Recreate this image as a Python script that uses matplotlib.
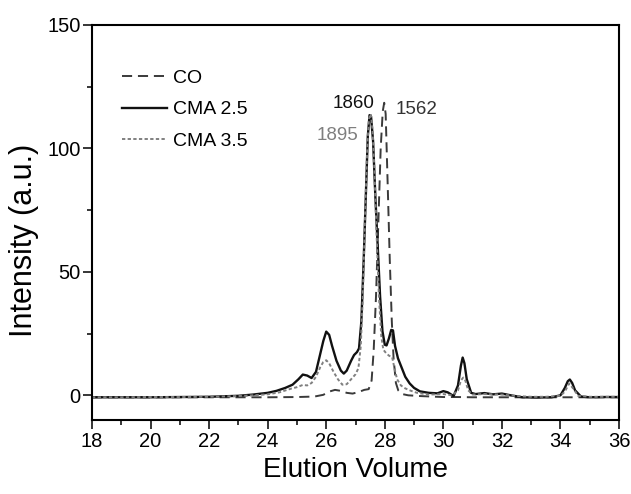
import numpy as np
import matplotlib.pyplot as plt

plt.rcParams['font.family'] = ['Liberation Sans', 'DejaVu Sans']

# Elution profiles (x = elution volume, y = intensity)
co_x = [18, 19, 20, 21, 22, 23, 24, 25, 25.6, 25.9, 26.1, 26.3, 26.5, 26.7, 26.9,
        27.1, 27.3, 27.45, 27.55, 27.62, 27.7, 27.78, 27.86, 27.93, 27.98, 28.03,
        28.1, 28.17, 28.24, 28.3, 28.38, 28.46, 28.6, 28.8, 29.2, 29.6, 30.0, 30.5,
        31, 32, 33, 34, 35, 36]
co_y = [-0.8, -0.8, -0.8, -0.8, -0.8, -0.8, -0.8, -0.7, -0.5, 0.2, 1.5, 2.2, 1.8,
        1.0, 0.7, 1.3, 2.2, 2.5, 6, 18, 40, 70, 100, 115, 118.5, 114, 85, 55, 30,
        15, 5, 2, 0.5, 0, -0.3, -0.5, -0.7, -0.7, -0.8, -0.8, -0.8, -0.8, -0.8, -0.8]

cma25_x = [18, 19, 20, 21, 22, 23, 23.5, 24, 24.3, 24.6, 24.85, 25.05, 25.2, 25.35,
           25.5, 25.65, 25.8, 25.9, 26.0, 26.1, 26.2, 26.35, 26.5, 26.6, 26.7, 26.85,
           26.95, 27.05, 27.12, 27.2, 27.28, 27.35, 27.42, 27.48, 27.53, 27.6, 27.68,
           27.76, 27.84, 27.92, 28.0, 28.06, 28.14, 28.22, 28.28, 28.35, 28.45, 28.55,
           28.7, 28.85, 29.0, 29.2, 29.5, 29.8, 30.0, 30.15, 30.35, 30.5, 30.6, 30.66,
           30.72, 30.8, 30.95, 31.1, 31.4, 31.7, 32.0, 32.3, 32.7, 33.2, 33.7, 34.0,
           34.15, 34.25, 34.32, 34.4, 34.5, 34.7, 35.0, 35.5, 36]
cma25_y = [-0.8, -0.8, -0.8, -0.7, -0.6, -0.2, 0.3, 1.0, 1.8, 3.0, 4.3, 6.5, 8.4, 8.0,
           7.0, 9.5, 17, 22, 25.8, 24.5, 20, 14, 10, 8.8, 10, 14, 16.3, 17.5, 19, 30,
           55, 80, 105, 113.5, 113, 103, 80, 60, 40, 26, 20.5, 20.2, 23, 26.5, 26.3,
           20, 15, 12, 7.5, 4.8, 3, 1.6, 1.0, 0.8, 1.7, 1.2, -0.3, 4, 12, 15.3, 13,
           6.5, 1.0, 0.5, 0.9, 0.4, 0.7, 0, -0.8, -0.9, -0.8, 0, 3, 5.7, 6.4, 5, 2,
           -0.5, -0.8, -0.7, -0.7]

cma35_x = [18, 19, 20, 21, 22, 23, 23.5, 24, 24.4, 24.8, 25.0, 25.2, 25.35, 25.5,
           25.65, 25.8, 25.9, 26.0, 26.1, 26.25, 26.4, 26.55, 26.7, 26.85, 27.0, 27.1,
           27.18, 27.25, 27.32, 27.4, 27.46, 27.52, 27.58, 27.65, 27.72, 27.8, 27.88,
           27.95, 28.05, 28.15, 28.25, 28.33, 28.42, 28.55, 28.7, 28.9, 29.1, 29.5,
           30.0, 30.3, 30.5, 30.6, 30.68, 30.75, 30.85, 31.0, 31.4, 32.0, 32.5, 33.0,
           33.5, 34.0, 34.15, 34.3, 34.45, 34.6, 35.0, 35.5, 36]
cma35_y = [-0.8, -0.8, -0.7, -0.7, -0.6, -0.3, 0.0, 0.4, 1.2, 2.7, 3.3, 4.2, 4.0, 5.0,
           7.5, 11.5, 13.5, 14.2, 13, 9.5, 6.5, 4.3, 4.5, 6.5, 8.5, 11, 20, 40, 70,
           100, 112, 114, 108, 90, 65, 40, 24, 18.5, 17, 16, 15.5, 11, 6.5, 4, 2.8,
           1.8, 1.0, 0.3, 0.5, 0, 2, 6, 7.2, 6, 2, 0.3, 0.5, 0.3, -0.3, -0.6, -0.6,
           -0.2, 1.5, 4.8, 2.5, -0.2, -0.6, -0.6, -0.6]

# peak labels (molecular weights)
peak_labels = ['1860', '1895', '1562']
peak_x = [26.95, 26.38, 29.08]
peak_y = [118.4, 105.4, 115.9]
peak_colors = ['#111111', '#7f7f7f', '#333333']

fig = plt.figure(figsize=(6.31, 4.94), dpi=100)
ax = fig.add_axes([0.1458, 0.1498, 0.8352, 0.7996])

ax.plot(co_x, co_y, color='#3a3a3a', lw=1.4, linestyle=(0, (5.2, 3.0)), label='CO')
ax.plot(cma25_x, cma25_y, color='#111111', lw=1.7, label='CMA 2.5')
ax.plot(cma35_x, cma35_y, color='#808080', lw=1.4, linestyle=(0, (1.7, 1.2)), label='CMA 3.5')

for lab, px, py, c in zip(peak_labels, peak_x, peak_y, peak_colors):
    ax.text(px, py, lab, color=c, fontsize=13.5, ha='center', va='center')

ax.set_xlim(18, 36)
ax.set_ylim(-10, 150)
ax.set_xticks(np.arange(18, 37, 2))
ax.set_xticks(np.arange(19, 36, 2), minor=True)
ax.set_yticks([0, 50, 100, 150])
ax.set_yticks([25, 75, 125], minor=True)
ax.tick_params(which='major', direction='out', length=6.3, width=1.1, labelsize=14.5, pad=2)
ax.tick_params(which='minor', direction='out', length=3.6, width=1.1)
for s in ax.spines.values():
    s.set_linewidth(1.5)

ax.set_xlabel('Elution Volume', fontsize=20, labelpad=5)
ax.set_ylabel('Intensity (a.u.)', fontsize=22)
ax.yaxis.set_label_coords(-0.10, 0.456)

ax.legend(loc='upper left', bbox_to_anchor=(0.057, 0.887), frameon=False, fontsize=14,
          handlelength=2.3, handletextpad=0.3, labelspacing=0.7,
          borderpad=0, borderaxespad=0)

fig.savefig('out.png', dpi=100)
